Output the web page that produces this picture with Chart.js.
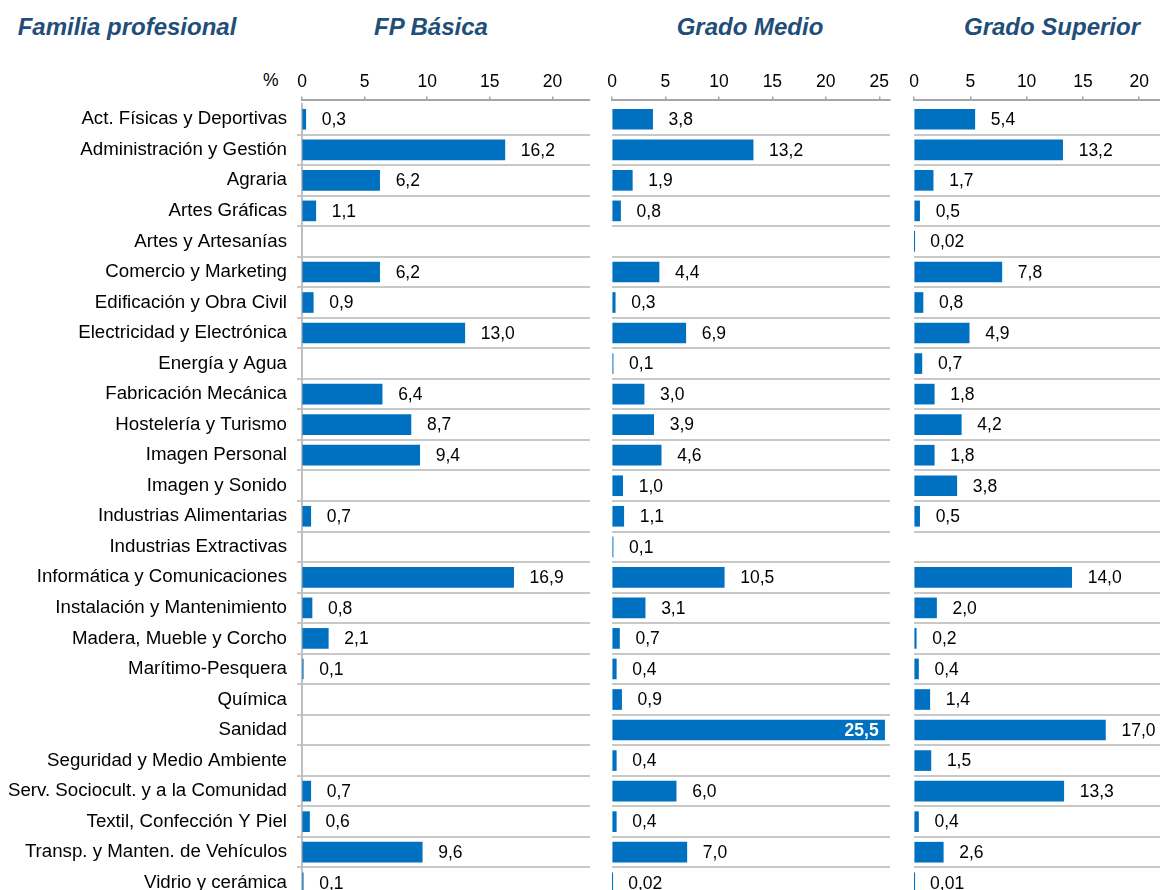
<!DOCTYPE html>
<html>
<head>
<meta charset="utf-8">
<script src="https://cdn.jsdelivr.net/npm/chart.js@4"></script>
<style>
  html, body { margin: 0; padding: 0; background: #fff; }
  #page { position: relative; width: 1160px; height: 890px; overflow: hidden; font-family: Arial, "Liberation Sans", sans-serif; }
  .title { position: absolute; top: 13px; font-size: 24px; font-weight: bold; font-style: italic; color: #1F4E79; white-space: nowrap; transform: translateX(-50%); }
  #unit { position: absolute; left: 263px; top: 70px; font-size: 17.5px; color: #000; }
  canvas { position: absolute; top: 0; }
</style>
</head>
<body>
<div id="page">
  <div class="title" style="left:127px">Familia profesional</div>
  <div class="title" id="t0" style="left:431px"></div>
  <div class="title" id="t1" style="left:750px"></div>
  <div class="title" id="t2" style="left:1052px"></div>
  <div id="unit">%</div>
  <canvas id="c0" width="590" height="898" style="left:0px"></canvas>
  <canvas id="c1" width="293" height="898" style="left:600px"></canvas>
  <canvas id="c2" width="271" height="898" style="left:902px"></canvas>
</div>
<script>
// Familias profesionales (filas)
const categories = [
  'Act. Físicas y Deportivas', 'Administración y Gestión', 'Agraria', 'Artes Gráficas',
  'Artes y Artesanías', 'Comercio y Marketing', 'Edificación y Obra Civil',
  'Electricidad y Electrónica', 'Energía y Agua', 'Fabricación Mecánica',
  'Hostelería y Turismo', 'Imagen Personal', 'Imagen y Sonido', 'Industrias Alimentarias',
  'Industrias Extractivas', 'Informática y Comunicaciones', 'Instalación y Mantenimiento',
  'Madera, Mueble y Corcho', 'Marítimo-Pesquera', 'Química', 'Sanidad',
  'Seguridad y Medio Ambiente', 'Serv. Sociocult. y a la Comunidad',
  'Textil, Confección Y Piel', 'Transp. y Manten. de Vehículos', 'Vidrio y cerámica'
];

const panelTitles = ['FP Básica', 'Grado Medio', 'Grado Superior'];

// % por familia en cada nivel (null = sin dato)
const fpBasica = [0.3, 16.2, 6.2, 1.1, null, 6.2, 0.9, 13.0, null, 6.4, 8.7, 9.4, null, 0.7,
  null, 16.9, 0.8, 2.1, 0.1, null, null, null, 0.7, 0.6, 9.6, 0.1];
const gradoMedio = [3.8, 13.2, 1.9, 0.8, null, 4.4, 0.3, 6.9, 0.1, 3.0, 3.9, 4.6, 1.0, 1.1,
  0.1, 10.5, 3.1, 0.7, 0.4, 0.9, 25.5, 0.4, 6.0, 0.4, 7.0, 0.02];
const gradoSuperior = [5.4, 13.2, 1.7, 0.5, 0.02, 7.8, 0.8, 4.9, 0.7, 1.8, 4.2, 1.8, 3.8, 0.5,
  null, 14.0, 2.0, 0.2, 0.4, 1.4, 17.0, 1.5, 13.3, 0.4, 2.6, 0.01];

// eje horizontal
const axisTicks = [0, 5, 10, 15, 20, 25];
const axisMax = [23, 26, 23];

const FONT = 'Arial, "Liberation Sans", sans-serif';
Chart.defaults.font.family = FONT;
Chart.defaults.font.size = 17.5;
Chart.defaults.color = '#000';

function fmt(v) {
  return v.toFixed(v < 0.1 ? 2 : 1).replace('.', ',');
}

// etiquetas de valor al final de cada barra
const valueLabels = {
  id: 'valueLabels',
  afterDatasetsDraw(chart) {
    const ctx = chart.ctx;
    const values = chart.data.datasets[0].data;
    const area = chart.chartArea;
    ctx.save();
    ctx.textBaseline = 'middle';
    chart.getDatasetMeta(0).data.forEach((bar, i) => {
      const v = values[i];
      if (v == null) return;
      const txt = fmt(v);
      ctx.font = '17.5px ' + FONT;
      const w = ctx.measureText(txt).width;
      if (bar.x + 16 + w > area.right) {
        ctx.font = 'bold 17.5px ' + FONT;
        ctx.fillStyle = '#fff';
        ctx.textAlign = 'right';
        ctx.fillText(txt, bar.x - 6, bar.y + 1);
      } else {
        ctx.fillStyle = '#000';
        ctx.textAlign = 'left';
        ctx.fillText(txt, bar.x + 16, bar.y + 1);
      }
    });
    ctx.restore();
  }
};

function makePanel(idx, values) {
  const first = idx === 0;
  document.getElementById('t' + idx).textContent = panelTitles[idx];
  new Chart(document.getElementById('c' + idx), {
    type: 'bar',
    data: {
      labels: categories,
      datasets: [{
        data: values,
        backgroundColor: '#0070C0',
        barThickness: 20
      }]
    },
    options: {
      indexAxis: 'y',
      responsive: false,
      maintainAspectRatio: false,
      animation: false,
      layout: { padding: 0 },
      plugins: { legend: { display: false }, tooltip: { enabled: false } },
      scales: {
        x: {
          type: 'linear',
          position: 'top',
          weight: 1,
          min: 0,
          max: axisMax[idx],
          afterBuildTicks: s => {
            s.ticks = axisTicks.filter(v => v <= s.max).map(v => ({ value: v }));
          },
          afterFit: s => { s.height = 99.5; },
          ticks: { padding: 4, maxRotation: 0, autoSkip: false },
          grid: { drawOnChartArea: false, tickLength: 3, color: '#A6A6A6', lineWidth: 1.5 },
          border: { color: '#A6A6A6', width: 2 }
        },
        // separación pequeña entre el eje y la primera fila
        x2: {
          type: 'linear',
          position: 'top',
          weight: 0,
          afterFit: s => { s.height = 4.5; },
          ticks: { display: false },
          grid: { display: false },
          border: { display: false }
        },
        y: {
          type: 'category',
          afterFit: s => {
            s.width = first ? 302 : 12;
            s.paddingTop = 0;
            s.paddingBottom = 0;
          },
          ticks: { display: first, padding: 10, font: { size: 18.7 } },
          grid: {
            color: c => c.index === 0 ? 'rgba(0,0,0,0)' : '#C8C8C8',
            lineWidth: 2,
            drawTicks: first,
            tickLength: 5
          },
          border: { display: first, color: '#BFBFBF', width: 2 }
        }
      }
    },
    plugins: [valueLabels]
  });
}

makePanel(0, fpBasica);
makePanel(1, gradoMedio);
makePanel(2, gradoSuperior);
</script>
</body>
</html>
